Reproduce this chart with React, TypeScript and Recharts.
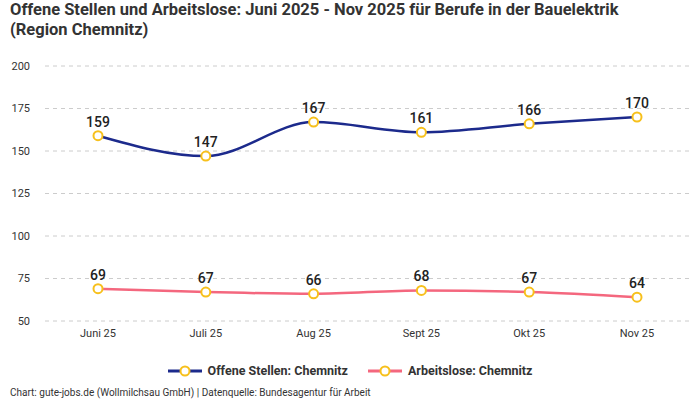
import React from "react";
import { LineChart, Line, XAxis, YAxis, CartesianGrid, LabelList } from "recharts";

const months = ["Juni 25", "Juli 25", "Aug 25", "Sept 25", "Okt 25", "Nov 25"];
const offeneStellen = [159, 147, 167, 161, 166, 170];
const arbeitslose = [69, 67, 66, 68, 67, 64];
const yTicks = [50, 75, 100, 125, 150, 175, 200];

const BLUE = "#1c2a8c";
const PINK = "#f4677e";
const DOT = "#f7c01c";
const FONT = "Roboto, sans-serif";

const data = months.map((m, i) => ({
  month: m,
  stellen: offeneStellen[i],
  arbeitslose: arbeitslose[i],
}));

const LegendItem = ({ color, label }: { color: string; label: string }) => (
  <div style={{ display: "flex", alignItems: "center", marginRight: 20 }}>
    <svg width={34} height={12} style={{ marginRight: 6 }}>
      <line x1={0} y1={6} x2={34} y2={6} stroke={color} strokeWidth={3} />
      <circle cx={17} cy={6} r={4.5} fill="#fff" stroke={DOT} strokeWidth={2} />
    </svg>
    <span style={{ fontWeight: 700, fontSize: 12.5, color: "#333" }}>{label}</span>
  </div>
);

export default function App() {
  return (
    <div style={{ position: "absolute", left: 0, top: 0, width: 700, height: 400, fontFamily: FONT, background: "#fff" }}>
      <div style={{ position: "absolute", left: 10, top: 0, fontSize: 16.5, fontWeight: 700, color: "#333", lineHeight: "20px" }}>
        Offene Stellen und Arbeitslose: Juni 2025 - Nov 2025 für Berufe in der Bauelektrik
        <br />
        (Region Chemnitz)
      </div>
      <div style={{ position: "absolute", left: 0, top: 0 }}>
        <LineChart width={700} height={400} data={data} margin={{ top: 66, right: 10, bottom: 54, left: 0 }}>
          <CartesianGrid vertical={false} strokeDasharray="4 4" stroke="#cccccc" />
          <XAxis
            dataKey="month"
            axisLine={false}
            tickLine={false}
            height={25}
            padding={{ left: 53, right: 53 }}
            tick={{ fontSize: 11, fill: "#333", fontFamily: FONT }}
          />
          <YAxis
            domain={[50, 200]}
            ticks={yTicks}
            axisLine={false}
            tickLine={false}
            width={45}
            tickMargin={9}
            tick={{ fontSize: 11, fill: "#333", fontFamily: FONT }}
          />
          <Line
            type="monotone"
            dataKey="stellen"
            stroke={BLUE}
            strokeWidth={2.5}
            dot={{ r: 4.5, fill: "#fff", stroke: DOT, strokeWidth: 2 }}
            isAnimationActive={false}
          >
            <LabelList dataKey="stellen" position="top" offset={9} style={{ fontSize: 14, fontWeight: 500, fill: "#222", fontFamily: FONT }} />
          </Line>
          <Line
            type="monotone"
            dataKey="arbeitslose"
            stroke={PINK}
            strokeWidth={2.5}
            dot={{ r: 4.5, fill: "#fff", stroke: DOT, strokeWidth: 2 }}
            isAnimationActive={false}
          >
            <LabelList dataKey="arbeitslose" position="top" offset={9} style={{ fontSize: 14, fontWeight: 500, fill: "#222", fontFamily: FONT }} />
          </Line>
        </LineChart>
      </div>
      <div style={{ position: "absolute", left: 0, width: 700, top: 363, display: "flex", justifyContent: "center", paddingLeft: 20, boxSizing: "border-box" }}>
        <LegendItem color={BLUE} label="Offene Stellen: Chemnitz" />
        <LegendItem color={PINK} label="Arbeitslose: Chemnitz" />
      </div>
      <div style={{ position: "absolute", left: 10, top: 387, fontSize: 10, color: "#333" }}>
        Chart: gute-jobs.de (Wollmilchsau GmbH) | Datenquelle: Bundesagentur für Arbeit
      </div>
    </div>
  );
}
